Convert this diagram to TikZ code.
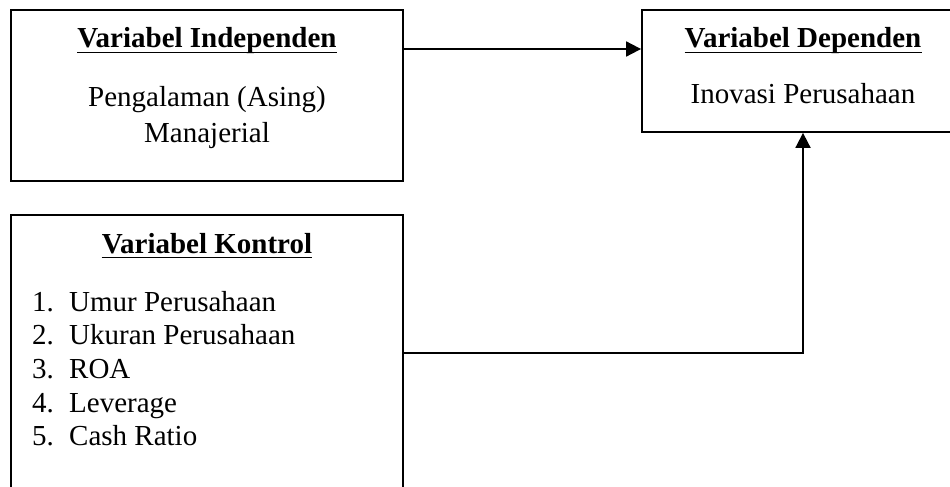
\documentclass[tikz,border=0pt]{standalone}
\usepackage{fontspec}
\setmainfont{Liberation Serif}
\usetikzlibrary{arrows.meta,calc}
\tikzset{
  box/.style={draw, line width=1.8pt, inner sep=0pt, fill=white},
  txt/.style={inner sep=0pt, anchor=base, font=\fontsize{29}{34}\selectfont},
  ttl/.style={txt, font=\fontsize{29}{34}\selectfont\bfseries},
  ltxt/.style={inner sep=0pt, anchor=base west, font=\fontsize{29}{34}\selectfont},
  uline/.style={line width=1.6pt},
  arr/.style={line width=1.8pt, -{Triangle[length=15pt,width=15pt]}},
  conn/.style={line width=1.8pt}
}
\begin{document}
\begin{tikzpicture}[x=1pt,y=-1pt]
\useasboundingbox (0,0) rectangle (950,487);
\clip (0,0) rectangle (950,487);
\fill[white] (0,0) rectangle (950,487);
% boxes
\node[box, minimum width=392pt, minimum height=171pt] (ind) at (207,95.5) {};
\node[box, minimum width=322pt, minimum height=122pt] (dep) at (803,71) {};
\node[box, minimum width=392pt, minimum height=320pt] (ctl) at (207,375) {};
% independent
\node[ttl] (t1) at (207,48) {Variabel Independen};
\draw[uline] ([yshift=-4.5pt]t1.base west) -- ([yshift=-4.5pt]t1.base east);
\node[txt] (i1) at (207,106) {Pengalaman (Asing)};
\node[txt] (i2) at (207,142) {Manajerial};
% dependent
\node[ttl] (t2) at (803,48) {Variabel Dependen};
\draw[uline] ([yshift=-4.5pt]t2.base west) -- ([yshift=-4.5pt]t2.base east);
\node[txt] (d1) at (803,103) {Inovasi Perusahaan};
% control
\node[ttl] (t3) at (207,253) {Variabel Kontrol};
\draw[uline] ([yshift=-4.5pt]t3.base west) -- ([yshift=-4.5pt]t3.base east);
\foreach \n/\t/\y in {1/Umur Perusahaan/311, 2/Ukuran Perusahaan/344, 3/ROA/378, 4/Leverage/412, 5/Cash Ratio/445}{
  \node[ltxt] (n\n) at (32,\y) {\n.};
  \node[ltxt] (c\n) at (69,\y) {\t};
}
% connectors
\coordinate (ya) at (0,49);
\coordinate (yb) at (0,353);
\draw[arr] (ind.east |- ya) -- (dep.west |- ya);
\draw[arr] (ctl.east |- yb) -| (dep.south);
\end{tikzpicture}
\end{document}
